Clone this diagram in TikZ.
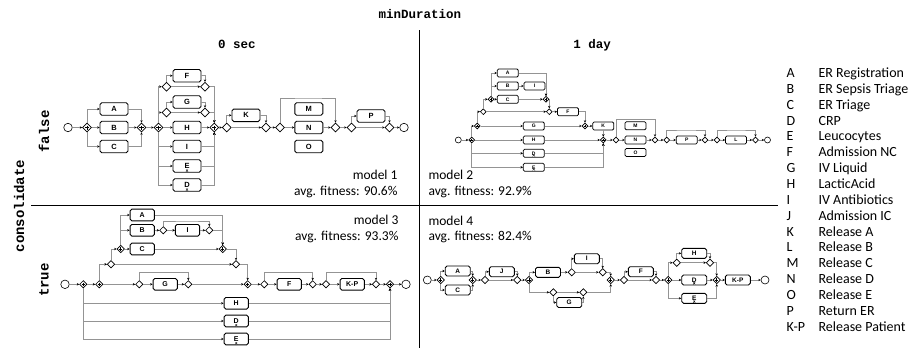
\documentclass[tikz,border=0pt]{standalone}
\usepackage{fontspec}
\setmainfont{Carlito}
\setmonofont{Liberation Mono}
\newfontfamily\labelfont{Liberation Sans}
\usetikzlibrary{shapes.geometric,arrows.meta,calc}

\tikzset{
  flow/.style={draw=black!42, line width=0.55pt, -{Stealth[length=2.4pt,width=2.4pt,color=black]}},
  rule/.style={draw=black, line width=0.8pt},
  act/.style={draw, rounded corners=1.8pt, line width=0.9pt, fill=white, inner sep=0pt,
    font=\labelfont\bfseries\fontsize{#1}{#1}\selectfont},
  actA/.style={act=7.5, minimum width=28pt, minimum height=12.5pt},
  actB/.style={act=5, line width=0.75pt, rounded corners=1.3pt, minimum width=21pt, minimum height=8pt},
  actC/.style={act=7, minimum width=24.3pt, minimum height=11.7pt},
  actD/.style={act=6.5, minimum width=25pt, minimum height=10pt},
  gw/.style={diamond, draw, line width=0.7pt, fill=white, inner sep=0pt, minimum size=#1},
  andgw/.style={path picture={
    \draw[line width=0.75pt]
      ($(path picture bounding box.west)!0.27!(path picture bounding box.east)$) --
      ($(path picture bounding box.west)!0.73!(path picture bounding box.east)$)
      ($(path picture bounding box.north)!0.27!(path picture bounding box.south)$) --
      ($(path picture bounding box.north)!0.73!(path picture bounding box.south)$);}},
  loopmark/.style={path picture={
    \draw[line width=0.4pt]
      ([xshift=-1.1pt,yshift=0.6pt]path picture bounding box.south) -- ++(0pt,1.8pt)
      -- ++(2.2pt,0pt) -- ++(0pt,-1.8pt);}},
  ev/.style={circle, draw, line width=0.6pt, fill=white, inner sep=0pt, minimum size=#1},
  hdr/.style={font=\ttfamily\bfseries\fontsize{12.5}{14}\selectfont},
  side/.style={font=\ttfamily\bfseries\fontsize{14}{16}\selectfont, rotate=90},
  txt/.style={font=\fontsize{13.5}{16}\selectfont},
  leg/.style={font=\fontsize{14}{16}\selectfont, anchor=base west},
}

\begin{document}
\begin{tikzpicture}[x=1pt,y=-1pt]
\useasboundingbox (0,0) rectangle (911,354);

% headers and grid
\node[hdr, anchor=base] (hMin) at (420,18.5) {minDuration};
\node[hdr, anchor=base] (h0) at (237,48) {0 sec};
\node[hdr, anchor=base] (h1) at (592,48) {1 day};
\node[side] (hCons) at (19,206) {consolidate};
\node[side] (hFalse) at (44,131.5) {false};
\node[side] (hTrue) at (44,280) {true};
\draw[rule] (419,30) -- (419,348);
\draw[rule] (31,205) -- (778,205);

% ---------------- model 1 ----------------
\node[ev=8.5] (m1s) at (68,127.5) {};
\node[gw=9, andgw] (m1g1) at (87,127.5) {};
\node[actA] (m1A) at (114,109) {A};
\node[actA] (m1B) at (114,127.5) {B};
\node[actA] (m1C) at (114,146.5) {C};
\node[gw=9, andgw] (m1g2) at (141.5,127.5) {};
\node[gw=9, andgw] (m1g3) at (158.5,127.5) {};
\node[gw=9] (m1fs) at (166.5,86.7) {};
\node[actA] (m1F) at (187,75.7) {F};
\node[gw=9] (m1fj) at (205,86.7) {};
\node[gw=9] (m1gs) at (166.5,112.5) {};
\node[actA] (m1G) at (187,102) {G};
\node[gw=9] (m1gj) at (205,112.5) {};
\node[actA] (m1H) at (187,127.5) {H};
\node[actA] (m1I) at (187,146.5) {I};
\node[actA, loopmark] (m1E) at (187,166) {E};
\node[actA, loopmark] (m1D) at (187,185) {D};
\node[gw=9, andgw] (m1g4) at (214.3,127.5) {};
\node[gw=9] (m1ks) at (226.7,127.5) {};
\node[actA] (m1K) at (246,115.3) {K};
\node[gw=9] (m1kj) at (266,127.5) {};
\node[gw=9] (m1ms) at (280,127.5) {};
\node[actA] (m1M) at (308.8,109) {M};
\node[actA] (m1N) at (308.8,127.5) {N};
\node[actA] (m1O) at (308.8,146.5) {O};
\node[gw=9] (m1mj) at (335.5,127.5) {};
\coordinate (m1top) at (308.8,98);
\node[gw=9] (m1ps) at (351.5,127.5) {};
\node[actA] (m1P) at (371,116) {P};
\node[gw=9] (m1pj) at (389.5,127.5) {};
\node[ev=8.5] (m1e) at (404,127.5) {};

\draw[flow] (m1s) -- (m1g1);
\draw[flow] (m1g1.north) |- (m1A.west);
\draw[flow] (m1g1) -- (m1B);
\draw[flow] (m1g1.south) |- (m1C.west);
\draw[flow] (m1A.east) -| (m1g2.north);
\draw[flow] (m1B) -- (m1g2);
\draw[flow] (m1C.east) -| (m1g2.south);
\draw[flow] (m1g2) -- (m1g3);
\draw[flow] (m1g3.north) |- (m1fs.west);
\draw[flow] (m1g3.north) |- (m1gs.west);
\draw[flow] (m1g3) -- (m1H);
\draw[flow] (m1g3.south) |- (m1I.west);
\draw[flow] (m1g3.south) |- (m1E.west);
\draw[flow] (m1g3.south) |- (m1D.west);
\draw[flow] (m1fs.north) |- (m1F.west);
\draw[flow] (m1F.east) -| (m1fj.north);
\draw[flow] (m1fs) -- (m1fj);
\draw[flow] (m1gs.north) |- (m1G.west);
\draw[flow] (m1G.east) -| (m1gj.north);
\draw[flow] (m1gs) -- (m1gj);
\draw[flow] (m1fj.east) -| (m1g4.north);
\draw[flow] (m1gj.east) -| (m1g4.north);
\draw[flow] (m1H) -- (m1g4);
\draw[flow] (m1I.east) -| (m1g4.south);
\draw[flow] (m1E.east) -| (m1g4.south);
\draw[flow] (m1D.east) -| (m1g4.south);
\draw[flow] (m1g4) -- (m1ks);
\draw[flow] (m1ks.north) |- (m1K.west);
\draw[flow] (m1K.east) -| (m1kj.north);
\draw[flow] (m1ks) -- (m1kj);
\draw[flow] (m1kj) -- (m1ms);
\draw[flow] (m1ms.north) |- (m1top) -| (m1mj.north);
\draw[flow] (m1ms) -- (m1N);
\draw[flow] (m1N) -- (m1mj);
\draw[flow] (m1mj) -- (m1ps);
\draw[flow] (m1ps.north) |- (m1P.west);
\draw[flow] (m1P.east) -| (m1pj.north);
\draw[flow] (m1ps) -- (m1pj);
\draw[flow] (m1pj) -- (m1e);

\node[txt, anchor=base east] (m1name) at (401,179.5) {model 1};
\node[txt, anchor=base east] (m1fit) at (401,195.5) {avg. fitness: 90.6\%};

% ---------------- model 2 ----------------
\node[ev=6] (m2s) at (458.3,140) {};
\node[gw=6, andgw] (m2a1) at (471.7,140) {};
\node[gw=6, andgw] (m2a2) at (477.3,126) {};
\node[gw=6] (m2x1) at (483.3,111.7) {};
\node[gw=6, andgw] (m2a3) at (491,99.3) {};
\node[actB] (m2A) at (507.8,73) {A};
\node[actB] (m2B) at (507.8,86) {B};
\node[actB] (m2C) at (507.8,99.3) {C};
\node[actB] (m2I) at (534.5,86) {I};
\node[gw=6, andgw] (m2a4) at (546,99.3) {};
\node[gw=6] (m2x2) at (549.3,111.7) {};
\node[actB] (m2F) at (568,111.7) {F};
\node[actB] (m2G) at (533.8,126) {G};
\node[actB] (m2H) at (533.8,140) {H};
\node[actB, loopmark] (m2D) at (533.8,153.3) {D};
\node[actB, loopmark] (m2E) at (533.8,167.3) {E};
\node[gw=6, andgw] (m2a5) at (585,126) {};
\node[actB] (m2K) at (603.3,126) {K};
\node[gw=6, andgw] (m2a6) at (603.3,140) {};
\node[gw=6] (m2x3) at (616,140) {};
\node[actB] (m2M) at (635.5,125.8) {M};
\node[actB] (m2N) at (635.5,140) {N};
\node[actB] (m2O) at (635.5,152.5) {O};
\node[gw=6] (m2x4) at (655,140) {};
\coordinate (m2top1) at (635.5,119.3);
\node[gw=6] (m2x5) at (666.7,140) {};
\node[actB] (m2P) at (686.7,140) {P};
\node[gw=6] (m2x6) at (705,140) {};
\coordinate (m2top2) at (686.7,130);
\node[gw=6] (m2x7) at (717,140) {};
\node[actB] (m2L) at (736,140) {L};
\node[gw=6] (m2x8) at (755.5,140) {};
\coordinate (m2top3) at (736,130);
\node[ev=6] (m2e) at (767.5,140) {};

\draw[flow] (m2s) -- (m2a1);
\draw[flow] (m2a1.north) |- (m2a2.west);
\draw[flow] (m2a1) -- (m2H);
\draw[flow] (m2a1.south) |- (m2D.west);
\draw[flow] (m2a1.south) |- (m2E.west);
\draw[flow] (m2a2.north) |- (m2x1.west);
\draw[flow] (m2a2) -- (m2G);
\draw[flow] (m2x1.north) |- (m2a3.west);
\draw[flow] (m2x1) -- (m2x2);
\draw[flow] (m2a3.north) |- (m2A.west);
\draw[flow] (m2a3.north) |- (m2B.west);
\draw[flow] (m2a3) -- (m2C);
\draw[flow] (m2B) -- (m2I);
\draw[flow] (m2A.east) -| (m2a4.north);
\draw[flow] (m2I.east) -| (m2a4.north);
\draw[flow] (m2C) -- (m2a4);
\draw[flow] (m2a4.east) -| (m2x2.north);
\draw[flow] (m2x2) -- (m2F);
\draw[flow] (m2F.east) -| (m2a5.north);
\draw[flow] (m2G) -- (m2a5);
\draw[flow] (m2a5) -- (m2K);
\draw[flow] (m2K) -- (m2a6);
\draw[flow] (m2H) -- (m2a6);
\draw[flow] (m2D.east) -| (m2a6.south);
\draw[flow] (m2E.east) -| (m2a6.south);
\draw[flow] (m2a6) -- (m2x3);
\draw[flow] (m2x3.north) |- (m2top1) -| (m2x4.north);
\draw[flow] (m2x3) -- (m2N);
\draw[flow] (m2N) -- (m2x4);
\draw[flow] (m2x4) -- (m2x5);
\draw[flow] (m2x5.north) |- (m2top2) -| (m2x6.north);
\draw[flow] (m2x5) -- (m2P);
\draw[flow] (m2P) -- (m2x6);
\draw[flow] (m2x6) -- (m2x7);
\draw[flow] (m2x7.north) |- (m2top3) -| (m2x8.north);
\draw[flow] (m2x7) -- (m2L);
\draw[flow] (m2L) -- (m2x8);
\draw[flow] (m2x8) -- (m2e);

\node[txt, anchor=base west] (m2name) at (425,179.5) {model 2};
\node[txt, anchor=base west] (m2fit) at (425,195.5) {avg. fitness: 92.9\%};

% ---------------- model 3 ----------------
\node[ev=8.5] (m3s) at (65,284.3) {};
\node[gw=7.5, andgw] (m3a1) at (83.3,284.3) {};
\node[gw=7.5, andgw] (m3a2) at (99.3,284.3) {};
\node[gw=7.5] (m3x1) at (111,264.3) {};
\node[gw=7.5, andgw] (m3a3) at (120.7,249) {};
\node[actC] (m3A) at (142.2,215) {A};
\node[actC] (m3B) at (142.2,230.3) {B};
\node[actC] (m3C) at (142.2,249) {C};
\node[gw=7.5] (m3is) at (163.3,230.3) {};
\node[actC] (m3I) at (187.5,230.3) {I};
\node[gw=7.5] (m3ij) at (209.3,230.3) {};
\coordinate (m3topI) at (187.5,221);
\node[gw=7.5, andgw] (m3a4) at (222.7,249) {};
\node[gw=7.5] (m3x2) at (236,264.3) {};
\node[gw=7.5] (m3gs) at (139.3,284.3) {};
\node[actC] (m3G) at (165.2,284.3) {G};
\node[gw=7.5] (m3gj) at (188.3,284.3) {};
\coordinate (m3topG) at (165.2,272.7);
\node[gw=7.5, andgw] (m3a5) at (247.7,284.3) {};
\node[gw=7.5] (m3fs) at (264.3,284.3) {};
\node[actC] (m3F) at (289.2,284.3) {F};
\node[gw=7.5] (m3fj) at (312.7,284.3) {};
\coordinate (m3topF) at (289.2,272.7);
\node[gw=7.5] (m3ks) at (326,284.3) {};
\node[actC] (m3KP) at (352.2,284.3) {K-P};
\node[gw=7.5] (m3kj) at (376,284.3) {};
\coordinate (m3topK) at (352.2,272.7);
\node[gw=7.5, andgw] (m3a6) at (390,284.3) {};
\node[ev=8.5] (m3e) at (406,284.3) {};
\node[actC] (m3H) at (236.2,303.3) {H};
\node[actC, loopmark] (m3D) at (236.2,321) {D};
\node[actC, loopmark] (m3E) at (236.2,339) {E};

\draw[flow] (m3s) -- (m3a1);
\draw[flow] (m3a1) -- (m3a2);
\draw[flow] (m3a1.south) |- (m3H.west);
\draw[flow] (m3a1.south) |- (m3D.west);
\draw[flow] (m3a1.south) |- (m3E.west);
\draw[flow] (m3H.east) -| (m3a6.south);
\draw[flow] (m3D.east) -| (m3a6.south);
\draw[flow] (m3E.east) -| (m3a6.south);
\draw[flow] (m3a2.north) |- (m3x1.west);
\draw[flow] (m3a2) -- (m3gs);
\draw[flow] (m3gs.north) |- (m3topG) -| (m3gj.north);
\draw[flow] (m3gs) -- (m3G);
\draw[flow] (m3G) -- (m3gj);
\draw[flow] (m3gj) -- (m3a5);
\draw[flow] (m3x1.north) |- (m3a3.west);
\draw[flow] (m3x1) -- (m3x2);
\draw[flow] (m3a3.north) |- (m3A.west);
\draw[flow] (m3a3.north) |- (m3B.west);
\draw[flow] (m3a3) -- (m3C);
\draw[flow] (m3B) -- (m3is);
\draw[flow] (m3is.north) |- (m3topI) -| (m3ij.north);
\draw[flow] (m3is) -- (m3I);
\draw[flow] (m3I) -- (m3ij);
\draw[flow] (m3A.east) -| (m3a4.north);
\draw[flow] (m3ij.east) -| (m3a4.north);
\draw[flow] (m3C) -- (m3a4);
\draw[flow] (m3a4.east) -| (m3x2.north);
\draw[flow] (m3x2.east) -| (m3a5.north);
\draw[flow] (m3a5) -- (m3fs);
\draw[flow] (m3fs.north) |- (m3topF) -| (m3fj.north);
\draw[flow] (m3fs) -- (m3F);
\draw[flow] (m3F) -- (m3fj);
\draw[flow] (m3fj) -- (m3ks);
\draw[flow] (m3ks.north) |- (m3topK) -| (m3kj.north);
\draw[flow] (m3ks) -- (m3KP);
\draw[flow] (m3KP) -- (m3kj);
\draw[flow] (m3kj) -- (m3a6);
\draw[flow] (m3a6) -- (m3e);

\node[txt, anchor=base east] (m3name) at (402,224.5) {model 3};
\node[txt, anchor=base east] (m3fit) at (402,240.5) {avg. fitness: 93.3\%};

% ---------------- model 4 ----------------
\node[ev=8] (m4s) at (427.3,280) {};
\node[gw=7.5, andgw] (m4a1) at (440.7,280) {};
\node[actD] (m4A) at (457.7,271) {A};
\node[actD] (m4C) at (457.7,290) {C};
\node[gw=7.5, andgw] (m4a2) at (472.7,280) {};
\node[gw=7.5] (m4js) at (485,280) {};
\node[actD] (m4J) at (501.8,271.7) {J};
\node[gw=7.5] (m4jj) at (517.3,280) {};
\node[gw=7.5, andgw] (m4a3) at (529,280) {};
\node[actD] (m4B) at (548,272.3) {B};
\node[gw=7.5] (m4is) at (571.7,272.3) {};
\node[actD] (m4I) at (586.8,258.7) {I};
\node[gw=7.5] (m4ij) at (602.7,272.3) {};
\node[gw=7.5] (m4gs) at (553.3,292.3) {};
\node[actD] (m4G) at (569.2,302.5) {G};
\node[gw=7.5] (m4gj) at (583.3,292.3) {};
\node[gw=7.5, andgw] (m4a4) at (610.7,280) {};
\node[gw=7.5] (m4fs) at (624,280) {};
\node[actD] (m4F) at (640.8,271.7) {F};
\node[gw=7.5] (m4fj) at (656,280) {};
\node[gw=7.5, andgw] (m4a5) at (668.3,280) {};
\node[gw=7.5] (m4hs) at (676.7,262.7) {};
\node[actD] (m4H) at (694.2,253.3) {H};
\node[gw=7.5] (m4hj) at (710,262.7) {};
\node[actD, loopmark] (m4D) at (694.2,280) {D};
\node[actD, loopmark] (m4E) at (694.2,298.3) {E};
\node[gw=7.5, andgw] (m4a6) at (716.7,280) {};
\node[actD] (m4KP) at (737.8,280) {K-P};
\node[ev=8] (m4e) at (765,280) {};

\draw[flow] (m4s) -- (m4a1);
\draw[flow] (m4a1.north) |- (m4A.west);
\draw[flow] (m4a1.south) |- (m4C.west);
\draw[flow] (m4A.east) -| (m4a2.north);
\draw[flow] (m4C.east) -| (m4a2.south);
\draw[flow] (m4a2) -- (m4js);
\draw[flow] (m4js.north) |- (m4J.west);
\draw[flow] (m4J.east) -| (m4jj.north);
\draw[flow] (m4js) -- (m4jj);
\draw[flow] (m4jj) -- (m4a3);
\draw[flow] (m4a3.north) |- (m4B.west);
\draw[flow] (m4B) -- (m4is);
\draw[flow] (m4is.north) |- (m4I.west);
\draw[flow] (m4I.east) -| (m4ij.north);
\draw[flow] (m4is) -- (m4ij);
\draw[flow] (m4ij.east) -| (m4a4.north);
\draw[flow] (m4a3.south) |- (m4gs.west);
\draw[flow] (m4gs.south) |- (m4G.west);
\draw[flow] (m4G.east) -| (m4gj.south);
\draw[flow] (m4gs) -- (m4gj);
\draw[flow] (m4gj.east) -| (m4a4.south);
\draw[flow] (m4a4) -- (m4fs);
\draw[flow] (m4fs.north) |- (m4F.west);
\draw[flow] (m4F.east) -| (m4fj.north);
\draw[flow] (m4fs) -- (m4fj);
\draw[flow] (m4fj) -- (m4a5);
\draw[flow] (m4a5.north) |- (m4hs.west);
\draw[flow] (m4hs.north) |- (m4H.west);
\draw[flow] (m4H.east) -| (m4hj.north);
\draw[flow] (m4hs) -- (m4hj);
\draw[flow] (m4hj.east) -| (m4a6.north);
\draw[flow] (m4a5) -- (m4D);
\draw[flow] (m4D) -- (m4a6);
\draw[flow] (m4a5.south) |- (m4E.west);
\draw[flow] (m4E.east) -| (m4a6.south);
\draw[flow] (m4a6) -- (m4KP);
\draw[flow] (m4KP) -- (m4e);

\node[txt, anchor=base west] (m4name) at (425,225.5) {model 4};
\node[txt, anchor=base west] (m4fit) at (425,240.5) {avg. fitness: 82.4\%};

% ---------------- legend ----------------
\foreach \k/\code/\desc [count=\i from 0] in {
  a/A/ER Registration, b/B/ER Sepsis Triage, c/C/ER Triage, d/D/CRP,
  e/E/Leucocytes, f/F/Admission NC, g/G/IV Liquid, h/H/LacticAcid,
  i/I/IV Antibiotics, j/J/Admission IC, k/K/Release A, l/L/Release B,
  m/M/Release C, n/N/Release D, o/O/Release E, p/P/Return ER,
  kp/K-P/Release Patient} {
  \node[leg] (lc\k) at (783,77.5+15.85*\i) {\code};
  \node[leg] (ld\k) at (815,77.5+15.85*\i) {\desc};
}
\end{tikzpicture}
\end{document}
